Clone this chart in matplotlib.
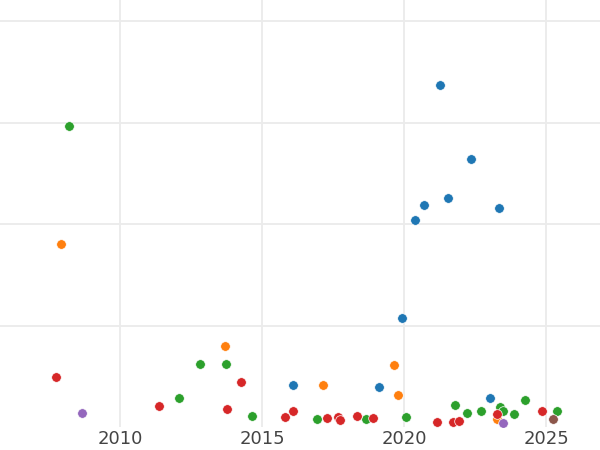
import matplotlib
matplotlib.use("Agg")
from matplotlib import pyplot as plt

# values (x = year, y = arbitrary units)
blue_year = [2021.27, 2022.36, 2021.55, 2020.70, 2020.39, 2023.35, 2019.93, 2016.09, 2019.12, 2023.03]
blue_val = [337, 264, 226, 219, 204, 216, 107, 41, 39, 29]

orange_year = [2007.92, 2013.70, 2019.65, 2017.15, 2019.79, 2023.27]
orange_val = [180, 80, 61, 41, 32, 8]

green_year = [2008.20, 2012.82, 2013.73, 2012.08, 2014.65, 2016.94, 2018.66, 2020.07,
              2021.80, 2022.22, 2022.71, 2023.38, 2023.49, 2023.87, 2024.26, 2025.39]
green_val = [297, 62, 62, 29, 11, 8, 8, 10, 22, 14, 16, 20, 16, 13, 27, 16]

red_year = [2007.75, 2011.37, 2014.26, 2013.77, 2015.81, 2016.09, 2017.29, 2017.68,
            2017.75, 2018.35, 2018.91, 2021.16, 2021.73, 2021.94, 2023.27, 2024.86]
red_val = [49, 21, 44, 18, 10, 16, 9, 10, 7, 11, 9, 5, 5, 6, 13, 16]

purple_year = [2008.66, 2023.49]
purple_val = [14, 4]

brown_year = [2025.25]
brown_val = [8]

x_ticks = [2010, 2015, 2020, 2025]


def main():
    fig = plt.figure(figsize=(6, 4.5), dpi=100)
    ax = fig.add_axes([0, 23 / 450, 1, 427 / 450])

    groups = [
        (blue_year, blue_val, "#1f77b4"),
        (orange_year, orange_val, "#ff7f0e"),
        (green_year, green_val, "#2ca02c"),
        (red_year, red_val, "#d62728"),
        (purple_year, purple_val, "#9467bd"),
        (brown_year, brown_val, "#8c564b"),
    ]
    for years, vals, color in groups:
        ax.scatter(years, vals, s=48, color=color, edgecolors="white",
                   linewidths=0.5, zorder=3)

    ax.set_xlim(2005.775, 2026.9)
    ax.set_ylim(0, 420.7)
    ax.set_xticks(x_ticks)
    ax.set_xticklabels([str(t) for t in x_ticks])
    ax.set_yticks([100, 200, 300, 400])
    ax.set_yticklabels([])

    ax.grid(True, color="#ebebeb", linewidth=1.3)
    ax.set_axisbelow(True)
    for spine in ax.spines.values():
        spine.set_visible(False)
    ax.tick_params(axis="both", length=0)
    ax.tick_params(axis="x", labelsize=13, labelcolor="#444444", pad=2)

    fig.savefig("out.png", dpi=100)


if __name__ == '__main__':
    main()
